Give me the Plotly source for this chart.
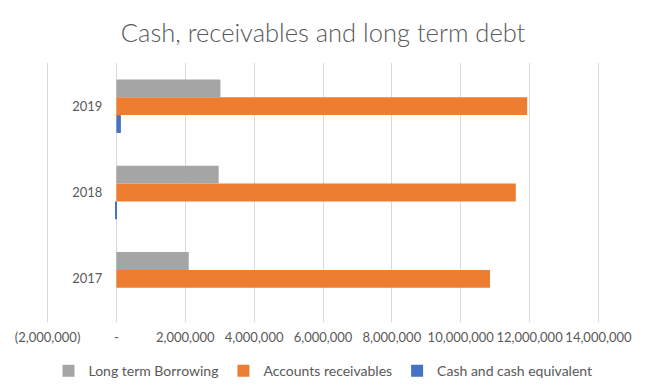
import plotly.graph_objects as go

years = ["2017", "2018", "2019"]
long_term_borrowing = [2100000, 2970000, 3020000]
accounts_receivables = [10850000, 11600000, 11930000]
cash_equivalent = [0, -30000, 130000]

x_tickvals = [-2000000, 0, 2000000, 4000000, 6000000, 8000000, 10000000, 12000000, 14000000]
x_ticktext = ["(2,000,000)", "-", "2,000,000", "4,000,000", "6,000,000",
              "8,000,000", "10,000,000", "12,000,000", "14,000,000"]

FONT = "Lato"
TXT = "#595959"

fig = go.Figure()
fig.add_trace(go.Bar(y=years, x=cash_equivalent, orientation="h",
                     name="Cash and cash equivalent", marker_color="#4472c4",
                     marker_line_width=0))
fig.add_trace(go.Bar(y=years, x=accounts_receivables, orientation="h",
                     name="Accounts receivables", marker_color="#ed7d31",
                     marker_line_width=0))
fig.add_trace(go.Bar(y=years, x=long_term_borrowing, orientation="h",
                     name="Long term Borrowing", marker_color="#a5a5a5",
                     marker_line_width=0))

# page body has an 8px default margin, so the figure is drawn 8px in from the top-left
fig.update_layout(
    width=651, height=377,
    paper_bgcolor="white", plot_bgcolor="white",
    margin=dict(l=38, r=59, t=55, b=63, autoexpand=False),
    barmode="group", bargap=0.38, bargroupgap=0,
    title=dict(text="Cash, receivables and long term debt", x=0.484, xanchor="center",
               y=0.934, yanchor="middle", yref="container",
               font=dict(family=FONT, size=25.5, color=TXT, weight=300)),
    font=dict(family=FONT, color=TXT),
    showlegend=True,
    legend=dict(orientation="h", x=0.5, xanchor="center", y=-0.19, yanchor="middle",
                traceorder="reversed", font=dict(size=14, color=TXT),
                itemwidth=30),
    xaxis=dict(range=[-2045000, 14045000], tickvals=x_tickvals, ticktext=x_ticktext,
               showgrid=True, gridcolor="#d9d9d9", gridwidth=1, zeroline=False,
               showline=False, ticks="", tickfont=dict(size=13, color=TXT),
               ticklabelstandoff=6, automargin=False, fixedrange=True),
    yaxis=dict(anchor="free", position=(0 - -2045000) / 16090000, showgrid=False,
               zeroline=False, showline=False, ticks="", ticklabelstandoff=14,
               automargin=False, tickfont=dict(size=13, color=TXT), type="category",
               categoryorder="array", categoryarray=years),
)

fig.write_html("out.html")
